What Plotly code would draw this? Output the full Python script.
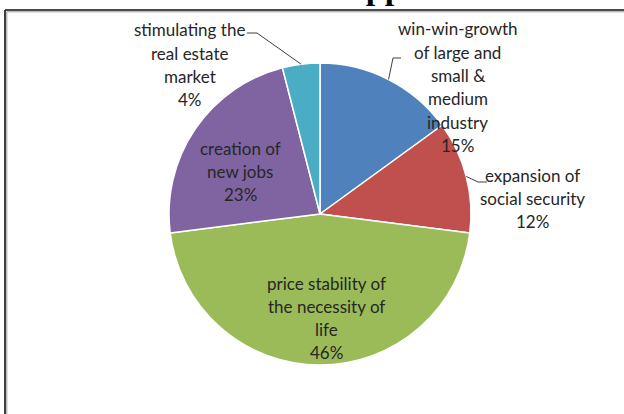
import math
import plotly.graph_objects as go

# ---------------- data ----------------
categories = [
    "win-win-growth of large and small & medium industry",
    "expansion of social security",
    "price stability of the necessity of life",
    "creation of new jobs",
    "stimulating the real estate market",
]
label_lines = [
    ["win-win-growth", "of large and", "small &", "medium", "industry"],
    ["expansion of", "social security"],
    ["price stability of", "the necessity of", "life"],
    ["creation of", "new jobs"],
    ["stimulating the", "real estate", "market"],
]
values = [15, 12, 46, 23, 4]
colors = ["#4F81BD", "#C0504D", "#9BBB59", "#8064A2", "#4BACC6"]
title_text = "Support"

# ---------------- layout constants (pixels) ----------------
W, H = 624, 414
CX, CY, R = 320, 214, 151
LINE = 23.3
FONT = dict(family="Lato, Open Sans, sans-serif", size=17, color="#262626")
# label block: centre x, first-line y
label_pos = [(458, 29), (532, 175), (326, 283), (240, 148), (190, 30)]
# leader lines for outside labels: tick start, elbow (then to slice edge)
leaders = {0: [(401, 58), (393, 58)], 1: [(487, 182), (478, 182)], 4: [(247, 33), (257, 33)]}


def px(x, y):
    return x / W, 1 - y / H


fig = go.Figure()
fig.add_trace(go.Pie(
    labels=categories, values=values, sort=False, direction="clockwise", rotation=0,
    marker=dict(colors=colors, line=dict(color="white", width=1.5)),
    textinfo="none", hoverinfo="label+percent", showlegend=False,
    domain=dict(x=[(CX - R) / W, (CX + R) / W], y=[(H - CY - R) / H, (H - CY + R) / H]),
))

total = sum(values)
annotations = []
shapes = []
cum = 0
for i, v in enumerate(values):
    pct = round(v / total * 100)
    lines = label_lines[i] + [f"{pct}%"]
    cxl, y0 = label_pos[i]
    for j, t in enumerate(lines):
        xp, yp = px(cxl, y0 + j * LINE)
        annotations.append(dict(x=xp, y=yp, xref="paper", yref="paper", text=t,
                                showarrow=False, xanchor="center", yanchor="middle", font=FONT))
    mid = (cum + v / 2) / total * 2 * math.pi
    cum += v
    if i in leaders:
        sx, sy = CX + R * math.sin(mid), CY - R * math.cos(mid)
        pts = leaders[i] + [(sx, sy)]
        path = "M " + " L ".join(f"{px(a, b)[0]},{px(a, b)[1]}" for a, b in pts)
        shapes.append(dict(type="path", path=path, xref="paper", yref="paper",
                           line=dict(color="#404040", width=1)))

# clipped title
tx, ty = px(326, -13)
annotations.append(dict(x=tx, y=ty, xref="paper", yref="paper", text=f"<b>{title_text}</b>",
                        showarrow=False, xanchor="left", yanchor="middle",
                        font=dict(family="Liberation Serif, Times New Roman, serif", size=34, color="black")))

# frame (top and left edges visible)
for off, col, wdt in [(0, "#111111", 1.6), (1.8, "#9a9a9a", 1)]:
    x0, y0 = px(5 + off, 10 + off)
    x1, _ = px(W + 5, 10 + off)
    _, y1 = px(5 + off, H + 5)
    shapes.append(dict(type="line", xref="paper", yref="paper", x0=x0, y0=y0, x1=x1, y1=y0,
                       line=dict(color=col, width=wdt)))
    shapes.append(dict(type="line", xref="paper", yref="paper", x0=x0, y0=y0, x1=x0, y1=y1,
                       line=dict(color=col, width=wdt)))

fig.update_layout(
    width=W, height=H, margin=dict(l=0, r=0, t=0, b=0),
    paper_bgcolor="white", plot_bgcolor="white",
    annotations=annotations, shapes=shapes,
)
fig.write_html("out.html")
